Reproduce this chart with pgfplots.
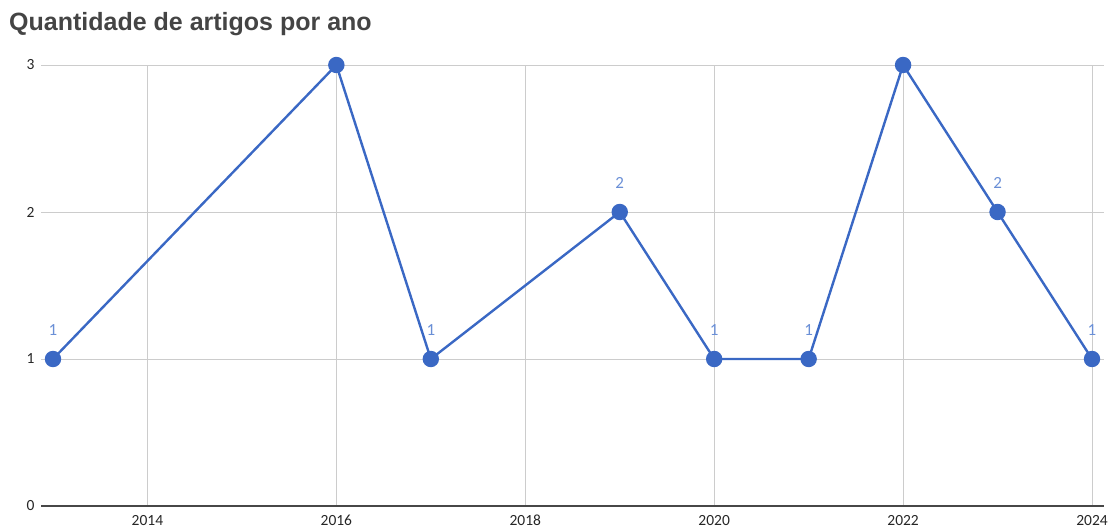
\documentclass[border=0pt]{standalone}
\usepackage{fontspec}
\setmainfont{Carlito}
\newfontfamily\titlefont{Liberation Sans}
\usepackage{pgfplots}
\pgfplotsset{compat=1.18}
\definecolor{serie}{HTML}{3A68C4}
\definecolor{rotulo}{HTML}{6A8FD6}
\definecolor{grade}{HTML}{CCCCCC}
\definecolor{eixo}{HTML}{333333}
\definecolor{titulo}{HTML}{444444}
\begin{document}
\begin{tikzpicture}[x=1pt,y=1pt]
\useasboundingbox (0,0) rectangle (1111,527);
\node[anchor=base west, font=\titlefont\bfseries\fontsize{25}{29}\selectfont, text=titulo, inner sep=0pt] at (9,496) {Quantidade de artigos por ano};
\begin{axis}[
  at={(41pt,21pt)}, anchor=south west,
  scale only axis, width=1063pt, height=441pt,
  xmin=2012.873, xmax=2024.127, ymin=0, ymax=3,
  xtick={2014,2016,2018,2020,2022,2024},
  ytick={0,1,2,3},
  xticklabel style={/pgf/number format/1000 sep={}, text height=10pt, text depth=1pt},
  /pgf/number format/assume math mode=true,
  tick label style={font=\fontsize{15.5}{17}\selectfont, text=black!85},
  grid=major, major grid style={grade, line width=0.8pt},
  axis line style={draw=none},
  tick style={draw=none},
  axis x line*=bottom, axis y line*=left,
  xticklabel shift=5.5pt, yticklabel shift=3pt,
  clip=false,
]
\draw[eixo!90, line width=1.6pt] (axis cs:2012.873,0) -- (axis cs:2024.127,0);
\addplot[serie, line width=2.4pt, mark=*, mark size=7pt,
  nodes near coords, point meta=explicit symbolic,
  every node near coord/.style={font=\fontsize{17}{19}\selectfont, text=rotulo, yshift=19pt}]
  coordinates {
  (2013,1) [1]
  (2016,3) []
  (2017,1) [1]
  (2019,2) [2]
  (2020,1) [1]
  (2021,1) [1]
  (2022,3) []
  (2023,2) [2]
  (2024,1) [1]
  };
\end{axis}
\end{tikzpicture}
\end{document}
